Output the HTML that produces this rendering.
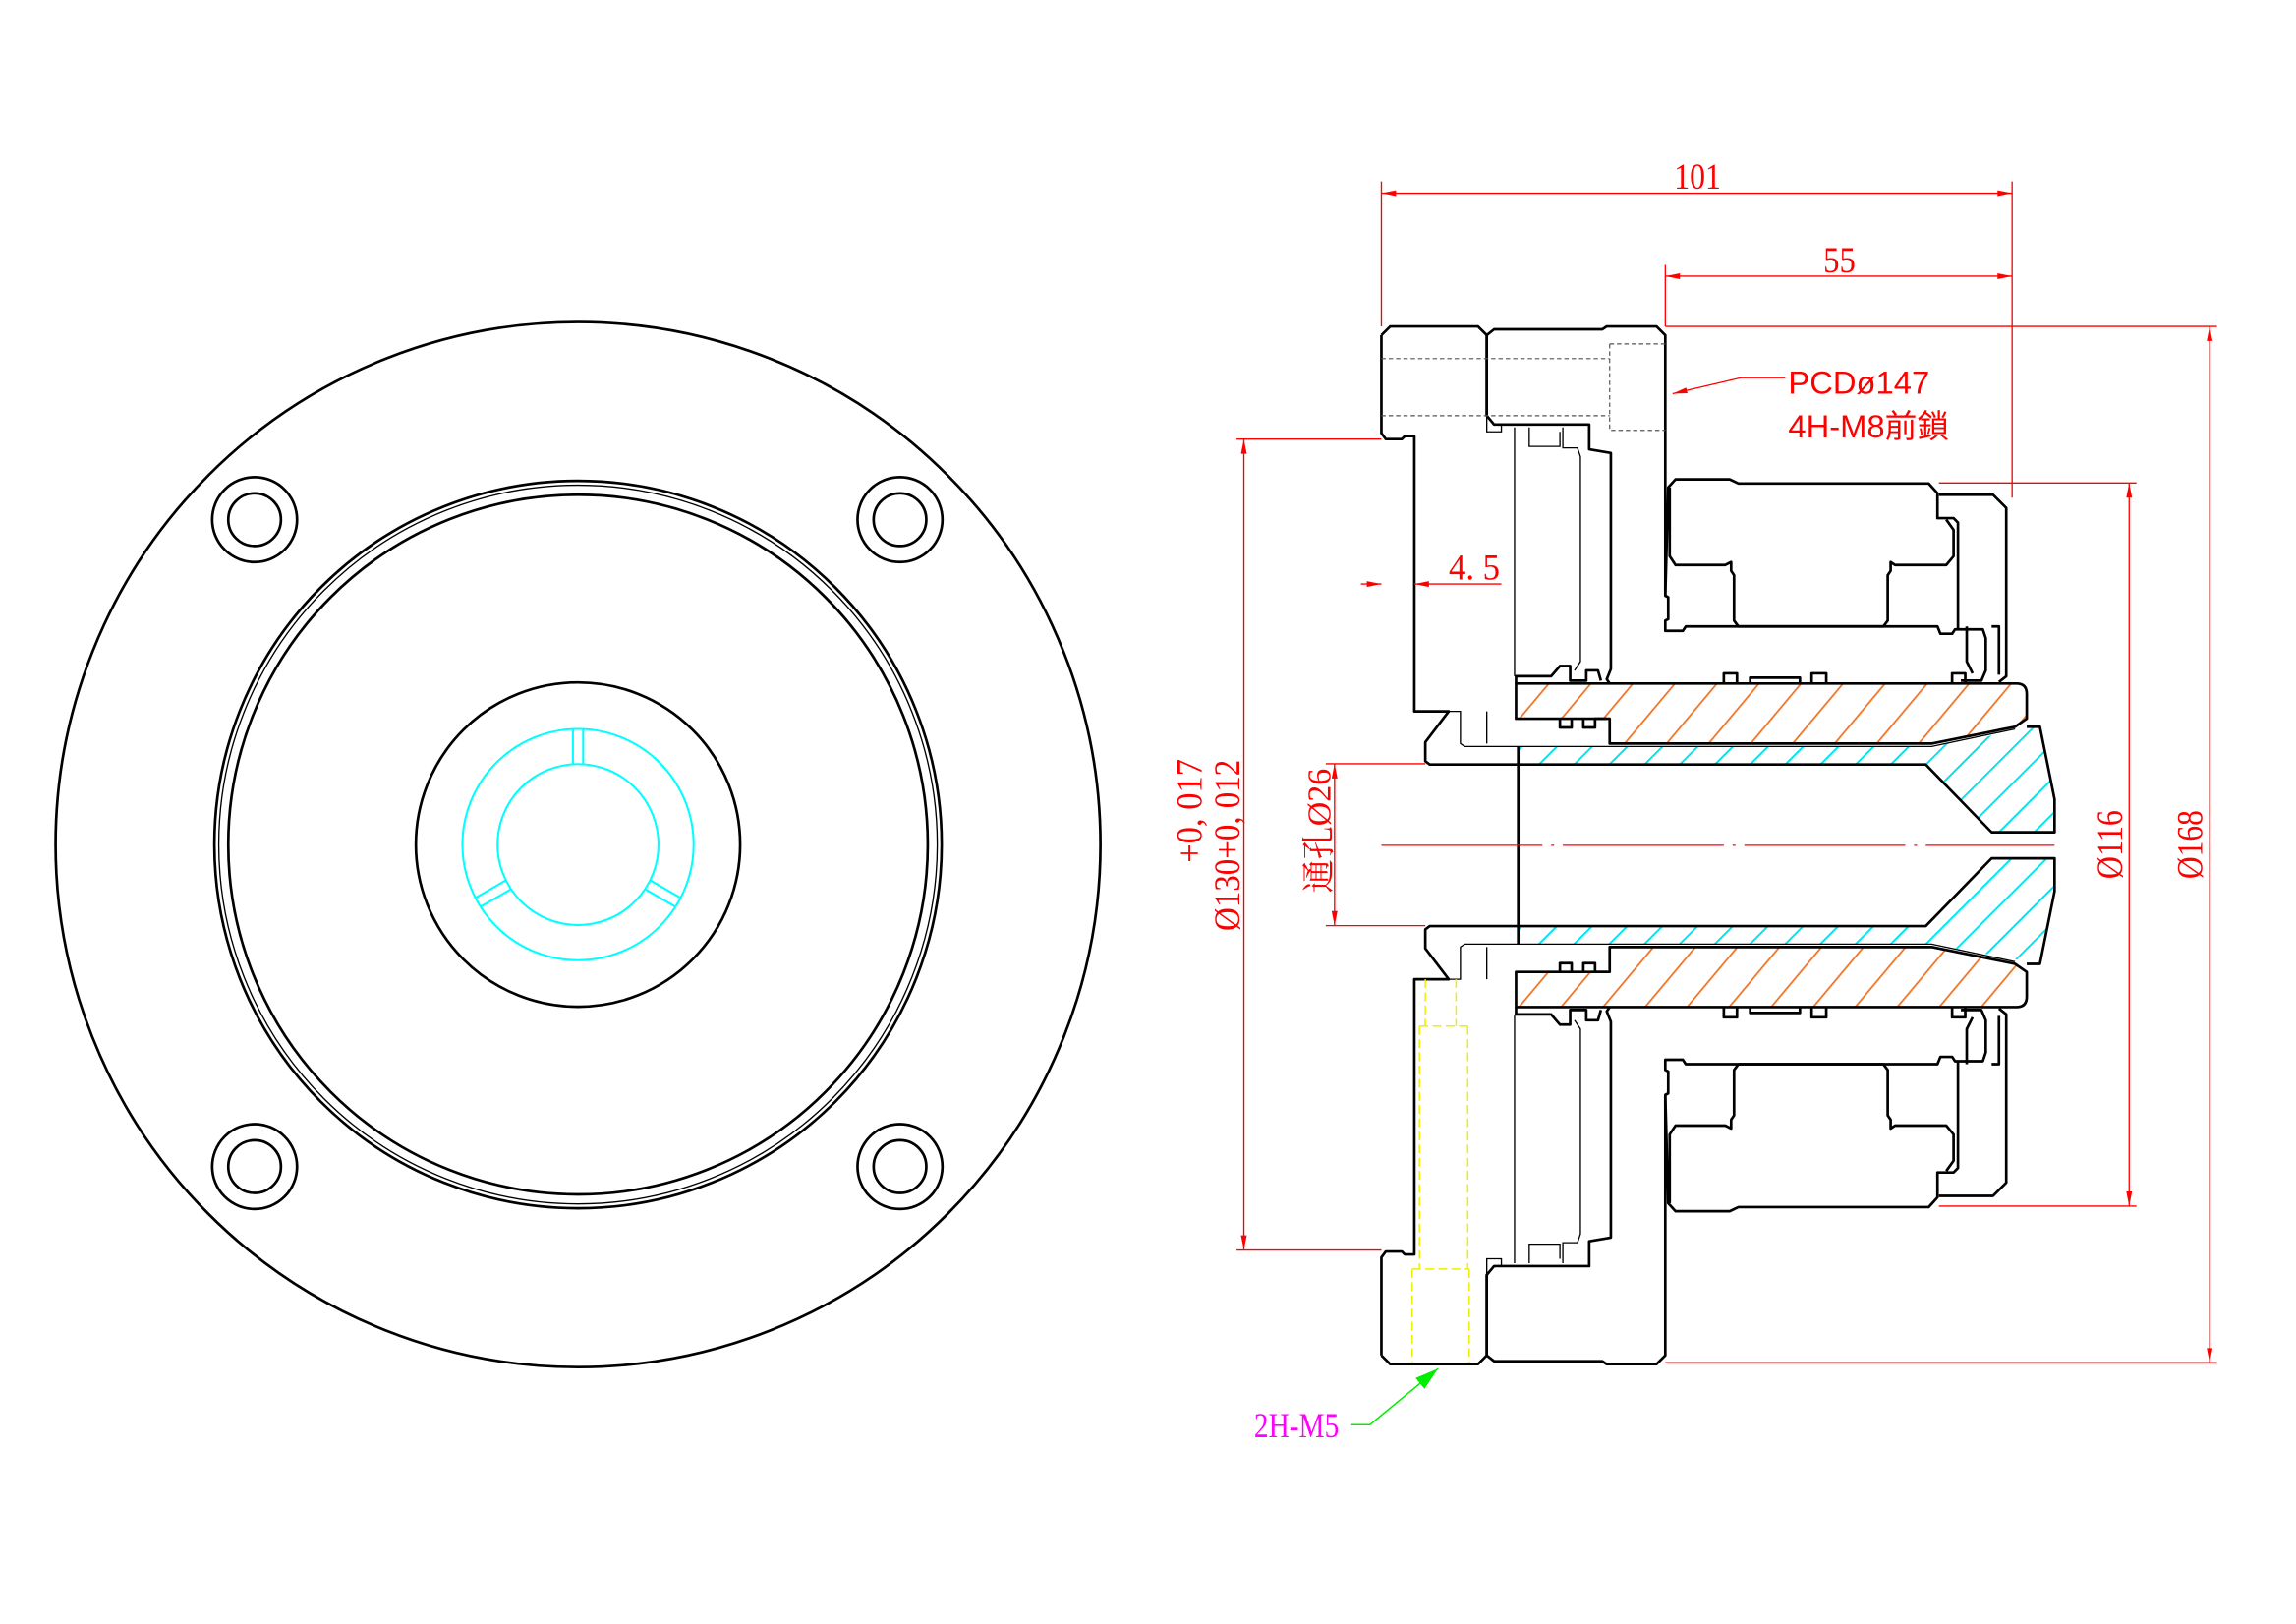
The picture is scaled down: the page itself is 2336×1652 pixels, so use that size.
<!DOCTYPE html>
<html><head><meta charset="utf-8"><style>
html,body{margin:0;padding:0;background:#fff;}
svg{display:block;}
.k{fill:none;stroke:#000;stroke-width:1.8;stroke-linejoin:round;}
.t{fill:none;stroke:#000;stroke-width:0.9;}
.r{fill:none;stroke:#f00;stroke-width:0.9;}
.c{fill:none;stroke:#0ff;stroke-width:1.4;}
.rt{fill:#f00;font-family:"Liberation Serif","Noto Serif CJK SC",serif;}
.rs{fill:#f00;font-family:"Liberation Sans","Noto Sans CJK TC",sans-serif;}
</style></head><body>
<svg width="2336" height="1652" viewBox="0 0 1569 1109.5" preserveAspectRatio="none" xmlns="http://www.w3.org/2000/svg">
<defs>
<pattern id="ho" width="22" height="22" patternUnits="userSpaceOnUse" patternTransform="rotate(-50)"><line x1="0" y1="11" x2="22" y2="11" stroke="#f07020" stroke-width="1.1"/></pattern>
<pattern id="hc" width="17" height="17" patternUnits="userSpaceOnUse" patternTransform="rotate(-45)"><line x1="0" y1="8" x2="17" y2="8" stroke="#00e5f0" stroke-width="1.3"/></pattern>
<pattern id="ho2" width="22" height="22" patternUnits="userSpaceOnUse" patternTransform="rotate(50)"><line x1="0" y1="11" x2="22" y2="11" stroke="#f07020" stroke-width="1.1"/></pattern>
<pattern id="hc2" width="17" height="17" patternUnits="userSpaceOnUse" patternTransform="rotate(45)"><line x1="0" y1="8" x2="17" y2="8" stroke="#00e5f0" stroke-width="1.3"/></pattern>
<marker id="a" viewBox="0 0 10 4" refX="10" refY="2" markerWidth="14" markerHeight="4" markerUnits="userSpaceOnUse" orient="auto-start-reverse"><path d="M0,0 L10,2 L0,4z" fill="#f00"/></marker>
<marker id="g" viewBox="0 0 10 6" refX="10" refY="3" markerWidth="16" markerHeight="10" markerUnits="userSpaceOnUse" orient="auto"><path d="M0,0 L10,3 L0,6z" fill="#0e0"/></marker>
</defs>

<!-- LEFT VIEW -->
<g>
<circle cx="395" cy="577" r="357" class="k" stroke-width="1.6"/>
<circle cx="395" cy="577" r="248.5" class="k" stroke-width="1.6"/>
<circle cx="395" cy="577" r="245.5" class="t"/>
<circle cx="395" cy="577" r="239" class="k" stroke-width="1.4"/>
<circle cx="395" cy="577" r="110.8" class="k" stroke-width="1.6"/>
<circle cx="395" cy="577" r="79" class="c"/>
<circle cx="395" cy="577" r="55" class="c"/>
<g id="slot"><line x1="391.5" y1="498" x2="391.5" y2="522" class="c"/><line x1="398.5" y1="498" x2="398.5" y2="522" class="c"/></g>
<use href="#slot" transform="rotate(120 395 577)"/>
<use href="#slot" transform="rotate(-120 395 577)"/>
<g class="k" stroke-width="1.4">
<circle cx="174" cy="355" r="29"/><circle cx="174" cy="355" r="18"/>
<circle cx="615" cy="355" r="29"/><circle cx="615" cy="355" r="18"/>
<circle cx="174" cy="797" r="29"/><circle cx="174" cy="797" r="18"/>
<circle cx="615" cy="797" r="29"/><circle cx="615" cy="797" r="18"/>
</g>
</g>

<!-- hatches -->
<g>
<path d="M1036,467 L1378,467 Q1385,467 1385,474 L1385,491 L1377,496.5 L1320,508 L1100,508 L1100,491 L1036,491 Z" fill="url(#ho)"/>
<path d="M1037,510 L1320,510 L1394,496.5 L1404,546 L1404,568.6 L1361,568.6 L1316,522.3 L1037,522.3 Z" fill="url(#hc)"/>
</g>
<g transform="translate(0,1155) scale(1,-1)">
<path d="M1036,467 L1378,467 Q1385,467 1385,474 L1385,491 L1377,496.5 L1320,508 L1100,508 L1100,491 L1036,491 Z" fill="url(#ho2)"/>
<path d="M1037,510 L1320,510 L1394,496.5 L1404,546 L1404,568.6 L1361,568.6 L1316,522.3 L1037,522.3 Z" fill="url(#hc2)"/>
</g>

<!-- upper half outlines -->
<g id="half">
<path class="k" d="M944,229 L950,223 L1010,223 L1016,229 L1016,284 M944,229 L944,296 L947,300 L958,300 L960,298 L966.5,298 L966.5,486 L990,486 L974,507 L974,520 L977,522.3 L1037,522.3"/>
<path class="t" d="M990,486 L998,486 L998,508 L1001,510 L1037,510 M1016,486 L1016,508"/>
<path class="k" d="M1016,229 L1021,225 L1095,225 L1098,223 L1132,223 L1138,229 L1138,407 L1140,408 L1140,423 L1138,424 L1138,431 L1150,431 L1152,428 L1324,428 L1326,433 L1334,433 L1336,430 L1355,430 L1357,436 L1357,458 L1354,465 L1340,465"/>
<path class="k" d="M1016,229 L1016,284 L1021,290 L1086,290 L1086,307 L1100.8,309.5 L1100.8,457 L1098,464 L1100,467"/>
<path class="t" d="M1016,284 L1016,295 L1026,295 L1026,290"/>
<path class="t" d="M1035,292 L1035,462 M1066,295 L1066,305 L1045,305 L1045,292 M1068,292 L1068,306 L1078,306 L1080,312 L1080,452 L1076,458"/>
<path class="k" d="M1036,467 L1036,462 L1060,462 L1066,455 L1073,455 L1073,465 L1084,465 L1084,458 L1092,458 L1094,465"/>
<path class="k" d="M1138,407 L1140,333 L1145,327.5 L1182,327.5 L1188,330.3 L1318,330.3 L1324,337 L1324,354 L1335,354 L1338,357 L1338,430"/>
<path class="k" d="M1325,338 L1362,338 L1371,347 L1371,462 L1366,466"/>
<path class="k" d="M1141,333 L1141,380 L1145,386 L1179,386 L1183,384 L1183,390 L1185,393 L1185,424 L1188,428 L1287,428 L1290,424 L1290,393 L1292,390 L1292,384 L1295,386 L1330,386 L1335,380 L1335,362 L1330,355"/>
<path class="k" d="M1361,428 L1366,428 L1366,461 M1344,428 L1344,452 L1348,460"/>
<path class="k" d="M1178,467 L1178,460 L1187,460 L1187,467 M1196,467 L1196,463 L1230,463 L1230,467 M1238,467 L1238,460 L1248,460 L1248,467 M1334,467 L1334,460 L1343,460 L1343,467"/>
<path class="k" d="M1036,467 L1378,467 Q1385,467 1385,474 L1385,491 L1377,496.5 L1320,508 L1100,508 L1100,491 L1036,491 Z"/>
<path class="t" d="M1037,510 L1320,510 L1377,498"/>
<path class="k" d="M1066,491 L1066,497 L1074,497 L1074,491 M1082,491 L1082,497 L1090,497 L1090,491 L1098,491"/>
<path class="k" d="M1037,522.3 L1316,522.3 L1361,568.6 L1404,568.6 L1404,546 L1394,496.5 L1385,496.5"/>
</g>
<use href="#half" transform="translate(0,1155) scale(1,-1)"/>
<line x1="1037.5" y1="510" x2="1037.5" y2="645" class="k"/>

<!-- bolt hole dashed (upper only) -->
<path d="M944,245 L1100,245 M944,284 L1100,284 M1100,235 L1138,235 M1100,235 L1100,294 L1138,294" fill="none" stroke="#555" stroke-width="0.8" stroke-dasharray="3,2"/>

<!-- yellow screw hole -->
<path d="M974,669 L974,701 M995,669 L995,701 M970,701 L1003,701 M970,701 L970,867 M1003,701 L1003,867 M965,867 L1004,867 M965,867 L965,931 M1004,867 L1004,931" fill="none" stroke="#ee0" stroke-width="1" stroke-dasharray="6,3"/>

<path d="M944,577.5 L1404,577.5" stroke="#f00" stroke-width="0.9" stroke-dasharray="110,6,2,6"/>

<g class="r">
<line x1="944" y1="124" x2="944" y2="223"/>
<line x1="1375" y1="124" x2="1375" y2="340"/>
<line x1="944" y1="132" x2="1375" y2="132" marker-start="url(#a)" marker-end="url(#a)"/>
<line x1="1138" y1="181" x2="1138" y2="223"/>
<line x1="1138" y1="188.7" x2="1375" y2="188.7" marker-start="url(#a)" marker-end="url(#a)"/>
<line x1="1138" y1="223" x2="1515" y2="223"/>
<line x1="1138" y1="931" x2="1515" y2="931"/>
<line x1="1510" y1="223" x2="1510" y2="931" marker-start="url(#a)" marker-end="url(#a)"/>
<line x1="1325" y1="330" x2="1460" y2="330"/>
<line x1="1325" y1="824" x2="1460" y2="824"/>
<line x1="1455" y1="330" x2="1455" y2="824" marker-start="url(#a)" marker-end="url(#a)"/>
<line x1="845" y1="300" x2="944" y2="300"/>
<line x1="845" y1="854" x2="944" y2="854"/>
<line x1="850" y1="300" x2="850" y2="854" marker-start="url(#a)" marker-end="url(#a)"/>
<line x1="906" y1="521.8" x2="974" y2="521.8"/>
<line x1="906" y1="632.4" x2="974" y2="632.4"/>
<line x1="912" y1="521.8" x2="912" y2="632.4" marker-start="url(#a)" marker-end="url(#a)"/>
<line x1="930" y1="399" x2="944" y2="399" marker-end="url(#a)"/>
<line x1="1026" y1="399" x2="966.5" y2="399" marker-end="url(#a)"/>
<polyline points="1220,258 1190,258 1143,269" marker-end="url(#a)"/>
</g>
<polyline points="923.4,973.3 936.2,973.3 982.7,935" fill="none" stroke="#0e0" stroke-width="1" marker-end="url(#g)"/>

<text class="rt" x="1160" y="129" font-size="25" text-anchor="middle" textLength="32" lengthAdjust="spacingAndGlyphs">101</text>
<text class="rt" x="1257" y="186" font-size="25" text-anchor="middle" textLength="22" lengthAdjust="spacingAndGlyphs">55</text>
<text class="rt" x="990" y="396" font-size="25" textLength="35" lengthAdjust="spacingAndGlyphs">4. 5</text>
<text class="rs" x="1222" y="269" font-size="22">PCDø147</text>
<text class="rs" x="1222" y="299" font-size="22">4H-M8前鎖</text>
<text x="857" y="982" font-size="24" fill="#f0f" font-family="Liberation Serif,serif" textLength="58" lengthAdjust="spacingAndGlyphs">2H-M5</text>
<text class="rt" font-size="25" transform="translate(1505,577) rotate(-90)" text-anchor="middle" textLength="47" lengthAdjust="spacingAndGlyphs">Ø168</text>
<text class="rt" font-size="25" transform="translate(1450,577) rotate(-90)" text-anchor="middle" textLength="47" lengthAdjust="spacingAndGlyphs">Ø116</text>
<text class="rt" font-size="25" transform="translate(847,636) rotate(-90)" textLength="117" lengthAdjust="spacingAndGlyphs">Ø130+0, 012</text>
<text class="rt" font-size="25" transform="translate(821,589.5) rotate(-90)" textLength="71" lengthAdjust="spacingAndGlyphs">+0, 017</text>
<text class="rt" font-size="23" transform="translate(909,610) rotate(-90)" textLength="85" lengthAdjust="spacingAndGlyphs">通孔Ø26</text>
</svg>
</body></html>
